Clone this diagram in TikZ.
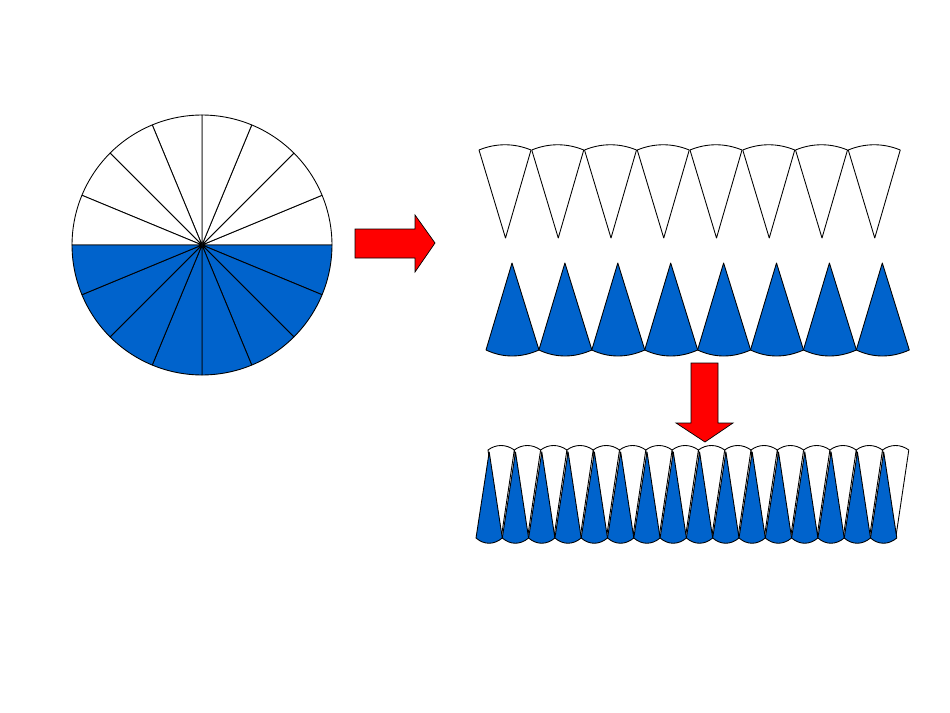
\documentclass[tikz,border=0pt]{standalone}
\begin{document}
\begin{tikzpicture}[x=0.02cm,y=-0.02cm,
  bl/.style={draw=black,fill={rgb,255:red,0;green,99;blue,204},line width=0.5pt,line join=round},
  wh/.style={draw=black,fill=white,line width=0.5pt,line join=round},
  arr/.style={draw=black,fill=red,line width=0.4pt}]
\useasboundingbox (0,0) rectangle (950,713);
% circle
\coordinate (c) at (202,245);
\foreach \i in {0,...,7}{
  \filldraw[wh] (c) -- ++({\i*22.5}:2.6cm) arc[start angle={\i*22.5},end angle={(\i+1)*22.5},radius=2.6cm] -- cycle;
  \filldraw[bl] (c) -- ++({-\i*22.5}:2.6cm) arc[start angle={-\i*22.5},end angle={-(\i+1)*22.5},radius=2.6cm] -- cycle;
}
% right arrow
\draw[arr] (355,229) -- (415,229) -- (415,215) -- (435,243) -- (415,272) -- (415,258) -- (355,258) -- cycle;
% down arrow
\draw[arr] (691,363) -- (718,363) -- (718,423) -- (733,423) -- (705,442) -- (676,423) -- (691,423) -- cycle;
% top row white
\foreach \k in {0,...,7}{
  \pgfmathsetmacro\xl{479+\k*52.75}
  \filldraw[wh] (\xl,150) .. controls (\xl+17,143) and (\xl+35,143) .. (\xl+52,150) -- (\xl+26.5,238) -- cycle;
}
% blue row
\foreach \k in {0,...,7}{
  \pgfmathsetmacro\xl{486+\k*52.9}
  \filldraw[bl] (\xl,350) .. controls (\xl+17,358) and (\xl+35,358) .. (\xl+53,350) -- (\xl+26,263) -- cycle;
}
% bottom row
\foreach \k in {0,...,15}{
  \pgfmathsetmacro\xl{476+\k*26.3}
  \pgfmathsetmacro\xw{488+\k*26.3}
  \filldraw[wh] (\xw,450) .. controls (\xw+8,444) and (\xw+18,444) .. (\xw+26.3,450) -- (\xw+13.2,538) -- cycle;
  \filldraw[bl] (\xl,538) .. controls (\xl+8,545) and (\xl+18,545) .. (\xl+26.3,538) -- (\xl+13.2,452) -- cycle;
}
\end{tikzpicture}
\end{document}
